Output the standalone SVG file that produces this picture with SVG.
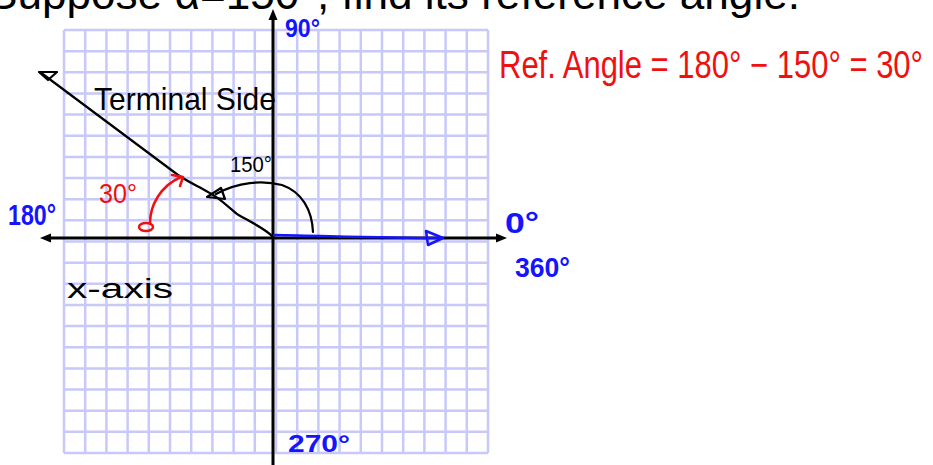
<svg xmlns="http://www.w3.org/2000/svg" width="933" height="465" viewBox="0 0 933 465">
<style>
.grid{stroke:#c8c8fa;stroke-width:2.5;fill:none}
.ax{stroke:#000;stroke-width:3;fill:none}
.ink{stroke:#000;stroke-width:2.2;fill:none;stroke-linecap:round;stroke-linejoin:round}
.red{stroke:#f01010;stroke-width:2.5;fill:none;stroke-linecap:round;stroke-linejoin:round}
.blue{stroke:#1414ff;stroke-width:2.5;fill:none;stroke-linecap:round;stroke-linejoin:round}
text{font-family:"Liberation Sans","DejaVu Sans",sans-serif}
.tb{fill:#000}
.tr{fill:#f01010}
.tu{fill:#1414ff;font-weight:bold}
</style>
<rect width="933" height="465" fill="#fff"/>
<g id="top-text">
<text class="tb" x="-12" y="9" font-size="44" textLength="812" lengthAdjust="spacingAndGlyphs">Suppose α=150°, find its reference angle.</text>
</g>
<g id="grid">
<path class="grid" d="M64,30V453M85.2,30V453M106.4,30V453M127.6,30V453M148.8,30V453M170,30V453M191.2,30V453M212.4,30V453M233.6,30V453M254.8,30V453M276,30V453M297.2,30V453M318.4,30V453M339.6,30V453M360.8,30V453M382,30V453M403.2,30V453M424.4,30V453M445.6,30V453M466.8,30V453M488,30V453"/>
<path class="grid" d="M64,30H488M64,51.15H488M64,72.3H488M64,93.45H488M64,114.6H488M64,135.75H488M64,156.9H488M64,178.05H488M64,199.2H488M64,220.35H488M64,241.5H488M64,262.65H488M64,283.8H488M64,304.95H488M64,326.1H488M64,347.25H488M64,368.4H488M64,389.55H488M64,410.7H488M64,431.85H488M64,453H488"/>
</g>
<g id="axes">
<line x1="273" y1="465" x2="273" y2="16" class="ax"/>
<polygon points="273,9 268.5,20 277.5,20" fill="#000"/>
<line x1="48" y1="238" x2="500" y2="238" class="ax"/>
<polygon points="40,238 51,233.5 51,242.5" fill="#000"/>
<polygon points="507,238 496,233.5 496,242.5" fill="#000"/>
</g>
<g id="connectors">
<g id="terminal-side">
<path d="M273,237 C266,229 252,223 237,214 C228,207 220,198 208,192 C198,186 190,183 178,175 L40,72" class="ink"/>
<polygon points="39,72 57,72 48,80" class="ink"/>
</g>
<g id="arc-150">
<path d="M313,232 C312,210 302,192 282,185 C262,180 238,182 216,194" class="ink"/>
<polygon points="207,197 221,188 225,199" class="ink"/>
</g>
<g id="arc-30">
<path d="M150,223 C150,206 160,186 181,177" class="red"/>
<ellipse cx="146" cy="227" rx="7" ry="4" class="red"/>
<polyline points="172,175 183,177 180,186" class="red"/>
</g>
<g id="initial-side">
<path d="M274,235 C330,236 380,238 440,238" class="blue"/>
<polygon points="426,231 443,238 428,245" fill="#1414ff" class="blue"/>
</g>
</g>
<g id="labels">
<text class="tb" x="94" y="110" font-size="32" textLength="182" lengthAdjust="spacingAndGlyphs">Terminal Side</text>
<text class="tb" x="230" y="172" font-size="22" textLength="42" lengthAdjust="spacingAndGlyphs">150°</text>
<text class="tr" x="99" y="203" font-size="27" textLength="38" lengthAdjust="spacingAndGlyphs">30°</text>
<text class="tu" x="8" y="225" font-size="30" textLength="48" lengthAdjust="spacingAndGlyphs">180°</text>
<text class="tu" x="285" y="37" font-size="25" textLength="35" lengthAdjust="spacingAndGlyphs">90°</text>
<text class="tu" x="505" y="233" font-size="29" textLength="34" lengthAdjust="spacingAndGlyphs">0°</text>
<text class="tu" x="515" y="277" font-size="28" textLength="55" lengthAdjust="spacingAndGlyphs">360°</text>
<text class="tu" x="288" y="452" font-size="24" textLength="62" lengthAdjust="spacingAndGlyphs">270°</text>
<text class="tb" x="67" y="298" font-size="27" textLength="106" lengthAdjust="spacingAndGlyphs">x-axis</text>
<text class="tr" x="499" y="78" font-size="38" textLength="424" lengthAdjust="spacingAndGlyphs">Ref. Angle = 180° − 150° = 30°</text>
</g>
</svg>
